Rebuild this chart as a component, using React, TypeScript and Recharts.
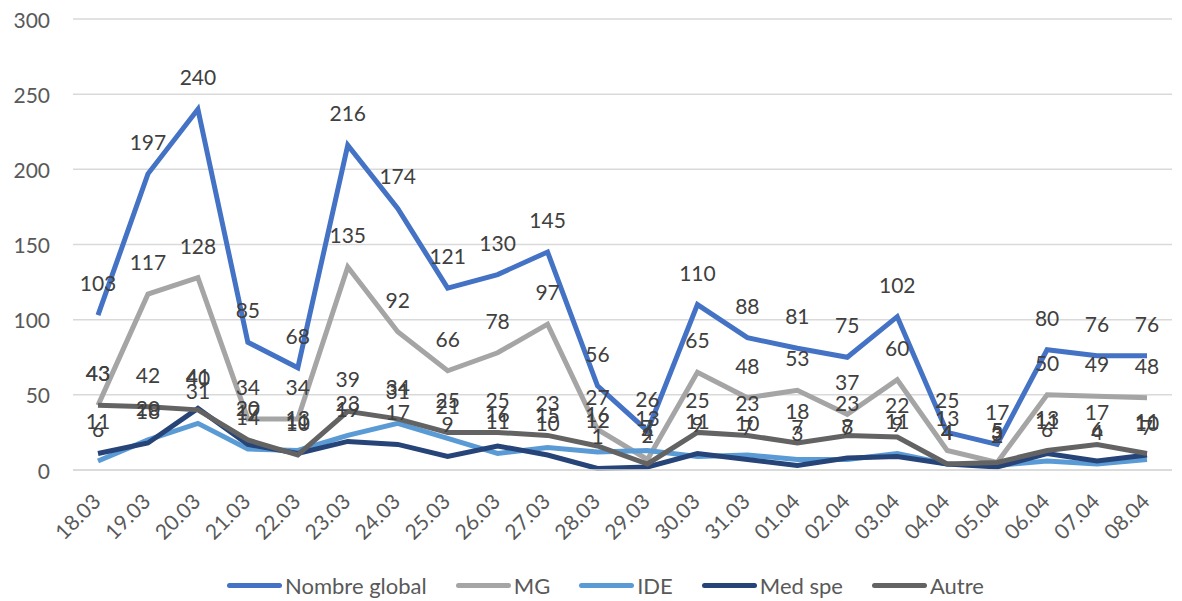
import React from 'react';
import {
  LineChart,
  Line,
  XAxis,
  YAxis,
  CartesianGrid,
  Legend,
  LabelList,
} from 'recharts';

const dates = [
  '18.03', '19.03', '20.03', '21.03', '22.03', '23.03', '24.03', '25.03',
  '26.03', '27.03', '28.03', '29.03', '30.03', '31.03', '01.04', '02.04',
  '03.04', '04.04', '05.04', '06.04', '07.04', '08.04',
];
const nombreGlobal = [103, 197, 240, 85, 68, 216, 174, 121, 130, 145, 56, 26, 110, 88, 81, 75, 102, 25, 17, 80, 76, 76];
const mg = [43, 117, 128, 34, 34, 135, 92, 66, 78, 97, 27, 7, 65, 48, 53, 37, 60, 13, 5, 50, 49, 48];
const ide = [6, 20, 31, 14, 13, 23, 31, 21, 11, 15, 12, 13, 9, 10, 7, 7, 11, 4, 3, 6, 4, 7];
const medSpe = [11, 18, 41, 17, 11, 19, 17, 9, 16, 10, 1, 2, 11, 7, 3, 8, 9, 4, 2, 11, 6, 10];
const autre = [43, 42, 40, 20, 10, 39, 34, 25, 25, 23, 16, 4, 25, 23, 18, 23, 22, 4, 5, 13, 17, 11];
const yTicks = [0, 50, 100, 150, 200, 250, 300];

const series = [
  { key: 'global', name: 'Nombre global', color: '#4472C4', values: nombreGlobal },
  { key: 'mg', name: 'MG', color: '#A5A5A5', values: mg },
  { key: 'ide', name: 'IDE', color: '#5B9BD5', values: ide },
  { key: 'medSpe', name: 'Med spe', color: '#264478', values: medSpe },
  { key: 'autre', name: 'Autre', color: '#636363', values: autre },
];

const data = dates.map((d, i) => {
  const row: any = { date: d };
  series.forEach((s) => {
    row[s.key] = s.values[i];
  });
  return row;
});

const FONT = 'Lato, "Open Sans", sans-serif';

const XTick = (props: any) => {
  const { x, y, payload } = props;
  return (
    <text
      transform={`translate(${x + 4},${y + 33}) rotate(-45)`}
      textAnchor="end"
      fill="#595959"
      fontSize={21}
      fontFamily={FONT}
    >
      {payload.value}
    </text>
  );
};

const YTick = (props: any) => {
  const { y, payload } = props;
  return (
    <text
      x={50}
      y={y}
      textAnchor="end"
      dominantBaseline="central"
      fill="#595959"
      fontSize={21}
      fontFamily={FONT}
    >
      {payload.value}
    </text>
  );
};

const LegendContent = () => (
  <div
    style={{
      display: 'flex',
      alignItems: 'center',
      height: 31,
      paddingLeft: 227,
      fontFamily: FONT,
      fontSize: 22,
      color: '#595959',
    }}
  >
    {series.map((s) => (
      <div key={s.key} style={{ display: 'flex', alignItems: 'center', marginRight: 29 }}>
        <span
          style={{
            display: 'inline-block',
            width: 55,
            height: 5,
            borderRadius: 3,
            background: s.color,
            marginRight: 3,
          }}
        />
        <span>{s.name}</span>
      </div>
    ))}
  </div>
);

export default function App() {
  return (
    <div style={{ position: 'absolute', left: 0, top: 0, background: '#fff' }}>
      <LineChart
        width={1182}
        height={601}
        data={data}
        margin={{ top: 19, right: 10, left: 0, bottom: 0 }}
      >
        <CartesianGrid vertical={false} stroke="#d9d9d9" strokeWidth={1.5} />
        <XAxis
          dataKey="date"
          axisLine={{ stroke: '#d9d9d9', strokeWidth: 1.5 }}
          tickLine={false}
          tickSize={0}
          tickMargin={0}
          height={100}
          interval={0}
          padding={{ left: 25, right: 25 }}
          tick={<XTick />}
        />
        <YAxis
          domain={[0, 300]}
          ticks={yTicks}
          width={73}
          axisLine={false}
          tickLine={false}
          tick={<YTick />}
        />
        <Legend verticalAlign="bottom" content={<LegendContent />} height={31} />
        {series.map((s) => (
          <Line
            key={s.key}
            type="linear"
            dataKey={s.key}
            name={s.name}
            stroke={s.color}
            strokeWidth={5}
            dot={false}
            isAnimationActive={false}
          >
            <LabelList
              dataKey={s.key}
              position="top"
              offset={24}
              fill="#404040"
              fontSize={21}
              fontFamily={FONT}
            />
          </Line>
        ))}
      </LineChart>
    </div>
  );
}
